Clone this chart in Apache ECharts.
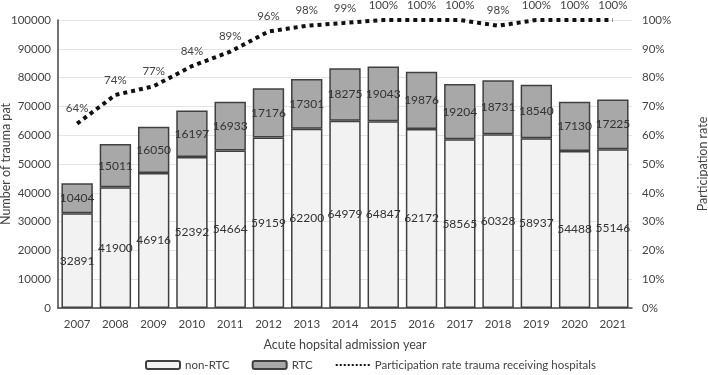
<!DOCTYPE html>
<html>
<head>
<meta charset="utf-8">
<script src="https://cdn.jsdelivr.net/npm/echarts@6/dist/echarts.min.js"></script>
<style>
  html, body { margin: 0; padding: 0; background: #fff; }
  #chart { width: 708px; height: 375px; }
</style>
</head>
<body>
<div id="chart"></div>
<script>
  const years = ['2007', '2008', '2009', '2010', '2011', '2012', '2013', '2014', '2015', '2016', '2017', '2018', '2019', '2020', '2021'];
  const nonRtc = [32891, 41900, 46916, 52392, 54664, 59159, 62200, 64979, 64847, 62172, 58565, 60328, 58937, 54488, 55146];
  const rtc = [10404, 15011, 16050, 16197, 16933, 17176, 17301, 18275, 19043, 19876, 19204, 18731, 18540, 17130, 17225];
  const rate = [64, 74, 77, 84, 89, 96, 98, 99, 100, 100, 100, 98, 100, 100, 100];

  const font = 'Lato, "Open Sans", sans-serif';
  const chart = echarts.init(document.getElementById('chart'));

  const barLabel = {
    show: true,
    position: 'inside',
    color: '#333',
    fontSize: 12,
    fontFamily: font,
  };

  chart.setOption({
    animation: false,
    textStyle: { fontFamily: font },
    grid: { left: 58, right: 76, top: 20, bottom: 67, outerBoundsMode: 'none', containLabel: false },
    legend: {
      top: 354,
      left: 140,
      itemWidth: 34,
      itemHeight: 8,
      itemGap: 22,
      textStyle: { color: '#444', fontSize: 11.5, fontFamily: font },
      data: [
        'non-RTC',
        'RTC',
        { name: 'Participation rate trauma receiving hospitals', itemStyle: { opacity: 0 } },
      ],
    },
    xAxis: {
      type: 'category',
      data: years,
      name: 'Acute hopsital admission year',
      nameLocation: 'middle',
      nameGap: 30,
      nameMoveOverlap: false,
      nameTextStyle: { color: '#444', fontSize: 12.5, fontFamily: font },
      axisLine: { lineStyle: { color: '#444', width: 1.5 } },
      axisTick: { show: false },
      axisLabel: { color: '#444', fontSize: 11.5, margin: 10 },
    },
    yAxis: [
      {
        type: 'value',
        min: 0,
        max: 100000,
        interval: 10000,
        name: 'Number of trauma pat',
        nameLocation: 'middle',
        nameGap: 46,
        nameMoveOverlap: false,
        nameTextStyle: { color: '#444', fontSize: 12.5, fontFamily: font },
        axisLine: { show: true, lineStyle: { color: '#444', width: 1.5 } },
        axisLabel: { color: '#444', fontSize: 11.5, margin: 7, formatter: (v) => String(v) },
        splitLine: { lineStyle: { color: '#e4e4e4' } },
      },
      {
        type: 'value',
        min: 0,
        max: 100,
        interval: 10,
        name: 'Participation rate',
        nameLocation: 'middle',
        nameGap: 64,
        nameRotate: 90,
        nameMoveOverlap: false,
        nameTextStyle: { color: '#444', fontSize: 12.5, fontFamily: font },
        axisLine: { show: false },
        axisLabel: { color: '#444', fontSize: 11.5, formatter: '{value}%', margin: 10 },
        splitLine: { show: false },
      },
    ],
    series: [
      {
        name: 'non-RTC',
        type: 'bar',
        stack: 'total',
        data: nonRtc,
        barCategoryGap: '18%',
        itemStyle: { color: '#f2f2f2', borderColor: '#404040', borderWidth: 1.5 },
        label: barLabel,
      },
      {
        name: 'RTC',
        type: 'bar',
        stack: 'total',
        data: rtc,
        itemStyle: { color: '#a8a8a8', borderColor: '#404040', borderWidth: 1.5 },
        label: barLabel,
      },
      {
        name: 'Participation rate trauma receiving hospitals',
        type: 'line',
        yAxisIndex: 1,
        data: rate,
        symbol: 'circle',
        symbolSize: 0,
        showSymbol: true,
        lineStyle: { color: '#111', width: 4, type: 'dotted' },
        itemStyle: { color: '#111' },
        label: {
          show: true,
          position: 'top',
          distance: 9,
          formatter: '{c}%',
          color: '#444',
          fontSize: 11.5,
          fontFamily: font,
        },
      },
    ],
  });
</script>
</body>
</html>
